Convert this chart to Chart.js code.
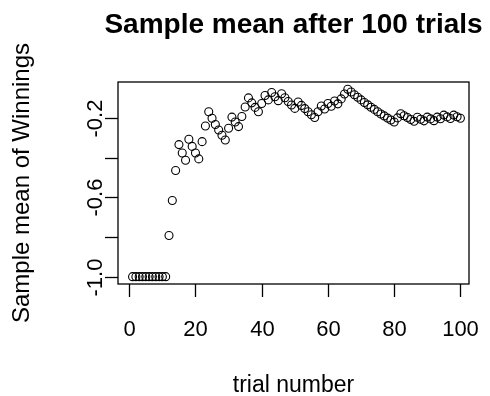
<!DOCTYPE html>
<html>
<head>
<meta charset="utf-8">
<script src="https://cdn.jsdelivr.net/npm/chart.js@4/dist/chart.umd.min.js"></script>
<style>
  html, body { margin: 0; padding: 0; background: #fff; }
  #chart { display: block; }
</style>
</head>
<body>
<canvas id="chart" width="490" height="396"></canvas>
<script>
'use strict';

// trial number (x)
const trials = Array.from({ length: 100 }, (_, i) => i + 1);

// running sample mean of winnings
const sampleMean = [
  -1, -1, -1, -1, -1, -1, -1, -1, -1, -1,
  -1, -0.792, -0.615, -0.464, -0.333, -0.375, -0.412, -0.306, -0.342, -0.375,
  -0.405, -0.318, -0.239, -0.167, -0.2, -0.231, -0.259, -0.286, -0.31, -0.25,
  -0.194, -0.219, -0.242, -0.191, -0.143, -0.097, -0.122, -0.145, -0.167, -0.125,
  -0.085, -0.107, -0.07, -0.091, -0.111, -0.076, -0.096, -0.115, -0.133, -0.15,
  -0.118, -0.135, -0.151, -0.167, -0.182, -0.196, -0.167, -0.138, -0.153, -0.125,
  -0.139, -0.113, -0.127, -0.102, -0.077, -0.053, -0.067, -0.081, -0.094, -0.107,
  -0.12, -0.132, -0.144, -0.155, -0.167, -0.178, -0.188, -0.199, -0.209, -0.219,
  -0.198, -0.177, -0.187, -0.196, -0.206, -0.215, -0.195, -0.205, -0.213, -0.194,
  -0.203, -0.212, -0.194, -0.202, -0.184, -0.193, -0.201, -0.184, -0.192, -0.2
];

const xTicks = [0, 20, 40, 60, 80, 100];
const yTicks = [-1.0, -0.8, -0.6, -0.4, -0.2];
const yTickLabels = ['-1.0', '', '-0.6', '', '-0.2'];

const FONT = '"Liberation Sans", Arial, sans-serif';

// R style frame, ticks and labels
const baseAxes = {
  id: 'baseAxes',
  afterDraw(chart) {
    const { ctx, chartArea: a, scales: { x, y } } = chart;
    ctx.save();
    ctx.strokeStyle = '#000';
    ctx.fillStyle = '#000';
    ctx.lineWidth = 1.3;
    ctx.strokeRect(a.left, a.top, a.right - a.left, a.bottom - a.top);

    // x ticks
    ctx.font = '22px ' + FONT;
    ctx.textAlign = 'center';
    ctx.textBaseline = 'alphabetic';
    xTicks.forEach((v) => {
      const px = Math.round(x.getPixelForValue(v)) + 0.5;
      ctx.beginPath();
      ctx.moveTo(px, a.bottom);
      ctx.lineTo(px, a.bottom + 13);
      ctx.stroke();
      ctx.fillText(String(v), px, 336);
    });

    // y ticks, labels turned like R
    yTicks.forEach((v, i) => {
      const py = Math.round(y.getPixelForValue(v)) + 0.5;
      ctx.beginPath();
      ctx.moveTo(a.left - 13, py);
      ctx.lineTo(a.left, py);
      ctx.stroke();
      if (yTickLabels[i]) {
        ctx.save();
        ctx.translate(102, py);
        ctx.rotate(-Math.PI / 2);
        ctx.fillText(yTickLabels[i], 0, 0);
        ctx.restore();
      }
    });

    const midX = (a.left + a.right) / 2;
    const midY = (a.top + a.bottom) / 2;

    ctx.font = '23px ' + FONT;
    ctx.fillText('trial number', midX, 392);

    ctx.font = '24px ' + FONT;
    ctx.save();
    ctx.translate(29, midY);
    ctx.rotate(-Math.PI / 2);
    ctx.fillText('Sample mean of Winnings', 0, 0);
    ctx.restore();

    ctx.font = 'bold 28px ' + FONT;
    ctx.fillText('Sample mean after 100 trials', midX, 33);
    ctx.restore();
  }
};

new Chart(document.getElementById('chart'), {
  type: 'scatter',
  data: {
    datasets: [{
      data: trials.map((t, i) => ({ x: t, y: sampleMean[i] })),
      pointStyle: 'circle',
      pointRadius: 4,
      pointBorderWidth: 1.1,
      borderColor: '#000',
      backgroundColor: 'rgba(0,0,0,0)',
      clip: false
    }]
  },
  options: {
    responsive: false,
    animation: false,
    events: [],
    layout: { padding: { left: 118, top: 82, right: 21, bottom: 112 } },
    scales: {
      x: { type: 'linear', display: false, min: -3.4, max: 102.6 },
      y: { type: 'linear', display: false, min: -1.037, max: -0.0167 }
    },
    plugins: {
      legend: { display: false },
      tooltip: { enabled: false },
      title: { display: false }
    }
  },
  plugins: [baseAxes]
});
</script>
</body>
</html>
